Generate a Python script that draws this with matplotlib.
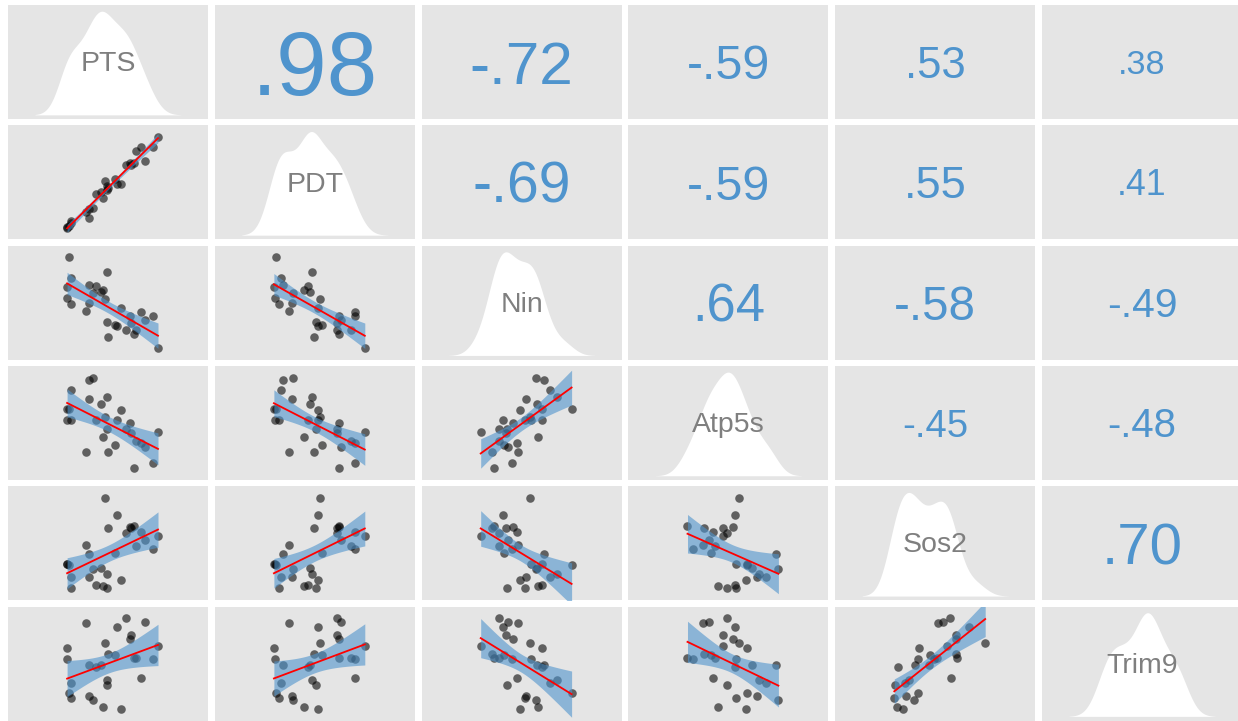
import numpy as np
import matplotlib
matplotlib.use("Agg")
import matplotlib.pyplot as plt

plt.rcParams["font.family"] = ["Liberation Sans", "DejaVu Sans"]

# Variable names and per-sample measurements (28 samples)
names = ["PTS", "PDT", "Nin", "Atp5s", "Sos2", "Trim9"]

PTS = [4.5, 4.5, 5.0, 5.5, 5.5, 9.8, 10.5, 10.5, 11.5, 12.5, 13.8, 14.5, 15.0, 15.5,
       15.5, 15.8, 17.8, 18.2, 19.2, 20.8, 21.8, 22.2, 22.8, 23.5, 24.8, 26.0, 28.2, 29.5]
PDT = [3.8, 4.0, 4.2, 5.5, 5.0, 7.5, 6.0, 8.2, 8.5, 12.0, 12.5, 11.0, 15.0, 13.0,
       14.0, 13.5, 15.5, 14.5, 14.5, 19.0, 19.5, 19.0, 19.5, 22.5, 23.5, 20.0, 23.5, 25.8]
Nin = [18.8, 15.5, 28.0, 21.5, 13.5, 11.5, 19.5, 14.0, 17.0, 19.0, 17.2, 17.8, 15.2, 23.5,
       8.0, 3.5, 7.2, 6.8, 12.2, 5.5, 10.0, 7.8, 4.2, 5.5, 11.2, 8.5, 9.7, 0.0]
Atp5s = [18.0, 15.0, 18.0, 23.5, 15.0, 5.7, 26.2, 20.8, 27.0, 14.8, 19.5, 10.0, 15.8, 21.5,
         12.5, 5.8, 7.8, 14.8, 17.7, 12.5, 14.0, 11.2, 1.2, 9.0, 8.5, 7.2, 2.8, 11.4]
Sos2 = [10.2, 10.0, 9.8, 6.5, 3.5, 15.2, 12.8, 6.7, 8.8, 4.5, 9.0, 4.2, 28.0, 7.5,
        3.7, 20.0, 13.0, 23.5, 5.8, 18.5, 20.2, 20.0, 20.5, 15.0, 18.8, 16.5, 14.2, 17.7]
Trim9 = [20.2, 17.5, 9.0, 11.5, 7.8, 26.5, 16.0, 8.2, 7.2, 15.5, 16.0, 5.5, 21.5, 12.2,
         11.0, 18.8, 18.5, 25.5, 5.0, 27.8, 22.5, 23.5, 17.8, 17.8, 12.8, 26.8, 17.5, 20.8]

# Pairwise correlation coefficients shown in the upper triangle
corr_upper = [
    [0.98, -0.72, -0.59, 0.53, 0.38],
    [-0.69, -0.59, 0.55, 0.41],
    [0.64, -0.58, -0.49],
    [-0.45, -0.48],
    [0.70],
]

values = [np.array(v, dtype=float) for v in (PTS, PDT, Nin, Atp5s, Sos2, Trim9)]
n_var = len(names)

PANEL_BG = "#e5e5e5"
BLUE = "#4F94CD"
W, H = 1238, 721


def nrd0(x):
    sd = np.std(x, ddof=1)
    iqr = np.subtract(*np.percentile(x, [75, 25]))
    lo = min(sd, iqr / 1.34) if iqr > 0 else sd
    return 0.9 * lo * len(x) ** (-0.2)


def kde(x):
    bw = nrd0(x)
    grid = np.linspace(x.min() - 3 * bw, x.max() + 3 * bw, 512)
    d = np.exp(-0.5 * ((grid[:, None] - x[None, :]) / bw) ** 2).sum(axis=1)
    d /= len(x) * bw * np.sqrt(2 * np.pi)
    return grid, d


def t975(df):
    z = 1.959964
    return (z + (z ** 3 + z) / (4 * df)
            + (5 * z ** 5 + 16 * z ** 3 + 3 * z) / (96 * df ** 2))


fig = plt.figure(figsize=(W / 100, H / 100), dpi=100)
fig.patch.set_facecolor("white")

for i in range(n_var):
    for j in range(n_var):
        left = 8 + j * 206.8
        top = 5 + i * 120.3
        ax = fig.add_axes([left / W, 1 - (top + 114) / H, 200 / W, 114 / H])
        ax.set_facecolor(PANEL_BG)
        ax.set_xticks([])
        ax.set_yticks([])
        for s in ax.spines.values():
            s.set_visible(False)

        if i == j:
            grid, d = kde(values[i])
            ax.fill_between(grid, 0, d, color="white", lw=0)
            span = grid[-1] - grid[0]
            ax.set_xlim(grid[0] - 0.185 * span, grid[-1] + 0.185 * span)
            ax.set_ylim(-0.04 * d.max(), 1.06 * d.max())
            ax.text(0.5, 0.48, names[i], transform=ax.transAxes, ha="center",
                    va="center", fontsize=20.5, color="#7f7f7f")
        elif j > i:
            r = corr_upper[i][j - i - 1]
            label = f"{r:.2f}".replace("0.", ".")
            fs = 17.35 + 50.2 * r * r
            ax.annotate(label, xy=(0.5, 0.5), xycoords="axes fraction",
                        xytext=(0, -0.358 * fs), textcoords="offset points",
                        ha="center", va="baseline", fontsize=fs, color=BLUE)
        else:
            x = values[j]
            y = values[i]
            n = len(x)
            b, a = np.polyfit(x, y, 1)
            xs = np.linspace(x.min(), x.max(), 100)
            ys = a + b * xs
            resid = y - (a + b * x)
            s = np.sqrt((resid ** 2).sum() / (n - 2))
            sxx = ((x - x.mean()) ** 2).sum()
            se = s * np.sqrt(1 / n + (xs - x.mean()) ** 2 / sxx)
            tq = t975(n - 2)
            ax.scatter(x, y, s=38, color="black", alpha=0.58, lw=0, zorder=2)
            ax.fill_between(xs, ys - tq * se, ys + tq * se, color=BLUE,
                            alpha=0.6, lw=0, zorder=3)
            ax.plot(xs, ys, color="red", lw=1.3, zorder=4)
            xr = x.max() - x.min()
            yr = y.max() - y.min()
            ax.set_xlim(x.min() - 0.65 * xr, x.max() + 0.55 * xr)
            ax.set_ylim(y.min() - 0.13 * yr, y.max() + 0.13 * yr)

fig.savefig("out.png", dpi=100, facecolor="white")
